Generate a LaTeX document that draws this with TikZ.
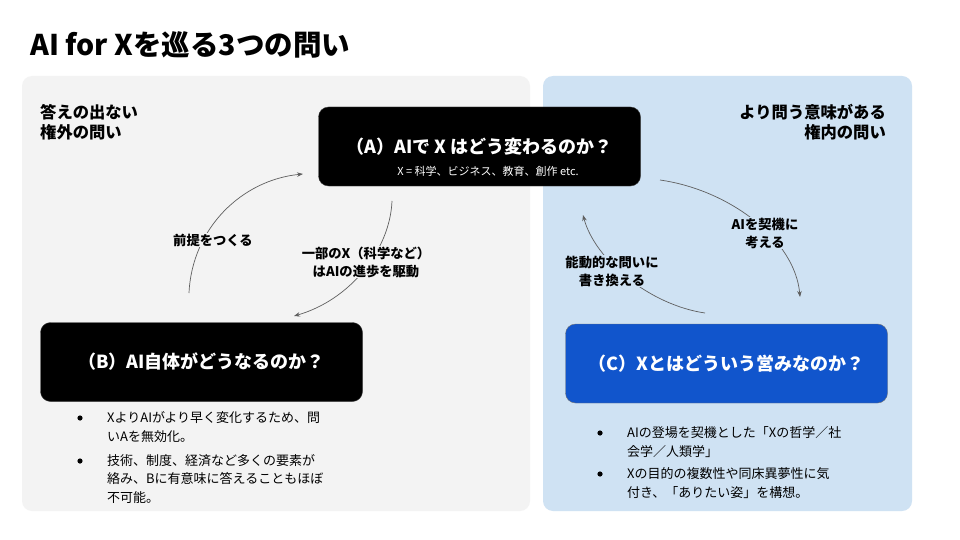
\documentclass[tikz,border=0pt]{standalone}
\usepackage{fontspec}
\setmainfont{Noto Sans CJK JP}
\usetikzlibrary{arrows.meta}

\definecolor{panelgray}{HTML}{F3F3F3}
\definecolor{panelblue}{HTML}{CFE2F3}
\definecolor{boxblue}{HTML}{1155CC}
\definecolor{linegray}{HTML}{5F5F5F}

\newcommand{\boxdims}{
\def\bw{322pt}   % question box width
\def\bh{79pt}    % question box height
\def\rr{10pt}
}

\tikzset{
  qbox/.style={draw=black!75, fill=black, text=white, rounded corners=\rr,
    minimum width=\bw, minimum height=\bh, font=\fontsize{18}{22}\selectfont\bfseries},
  flow/.style={draw=linegray, line width=0.7pt, -{Stealth[length=6pt,width=4.5pt]}},
  flowtxt/.style={font=\fontsize{13.3}{18}\selectfont\bfseries, align=center, inner sep=1pt},
  side/.style={font=\fontsize{16.3}{20.5}\selectfont\bfseries, inner sep=0pt},
  item/.style={font=\fontsize{13}{18.5}\selectfont, align=left, anchor=west, inner sep=0pt},
}

\begin{document}
\begin{tikzpicture}[x=1pt,y=-1pt]
  \boxdims
  \useasboundingbox (0,0) rectangle (960,540);
  \fill[white] (0,0) rectangle (960,540);
%
  \node[anchor=west, inner sep=0pt, font=\fontsize{28.5}{32}\selectfont\bfseries] (title) at (30,45) {AI for Xを巡る3つの問い};
%
  \fill[panelgray, rounded corners=\rr] (22,76) rectangle (530,511);
  \fill[panelblue, rounded corners=\rr] (543,76) rectangle (912,511);
  \node[side, anchor=west, align=left] (outq) at (40,122) {答えの出ない\\権外の問い};
  \node[side, anchor=east, align=right] (inq) at (886,122) {より問う意味がある\\権内の問い};
%
  \coordinate (b1s) at (189,293);  \coordinate (b1e) at (303,174);
  \coordinate (a1s) at (392,201);  \coordinate (a1e) at (294,316);
  \coordinate (a2s) at (660,180);  \coordinate (a2e) at (800,297);
  \coordinate (c1s) at (705,313);  \coordinate (c1e) at (583,215);
  \draw[flow] (b1s) .. controls (192,228) and (242,180) .. (b1e);
  \draw[flow] (a1s) .. controls (390,250) and (350,300) .. (a1e);
  \draw[flow] (a2s) .. controls (730,190) and (795,240) .. (a2e);
  \draw[flow] (c1s) .. controls (650,305) and (595,260) .. (c1e);
  \node[flowtxt, fill=panelgray] (premise) at (213,240) {前提をつくる};
  \node[flowtxt, fill=panelgray] (drive) at (366,262) {一部のX（科学など）\\はAIの進歩を駆動};
  \node[flowtxt, fill=panelblue] (trigger) at (765,233) {AIを契機に\\考える};
  \node[flowtxt, fill=panelblue] (rewrite) at (612,271) {能動的な問いに\\書き換える};
%
  \node[qbox] (qa) at (479.5,146.5) {（A）AIで X はどう変わるのか？};
  \node[text=white, inner sep=0pt, font=\fontsize{11}{13}\selectfont] (qasub) at (488,171) {X = 科学、ビジネス、教育、創作 etc.};
  \node[qbox] (qb) at (201.5,362) {（B）AI自体がどうなるのか？};
  \node[qbox, fill=boxblue, draw=black!55] (qc) at (726.5,363.5) {（C）Xとはどういう営みなのか？};
%
  \fill (80,418) circle (2.6);
  \fill (80,461) circle (2.6);
  \node[item] (bl1) at (107,427) {XよりAIがより早く変化するため、問\\いAを無効化。};
  \node[item] (bl2) at (107,479) {技術、制度、経済など多くの要素が\\絡み、Bに有意味に答えることもほぼ\\不可能。};
  \fill (600,433) circle (2.6);
  \fill (600,474) circle (2.6);
  \node[item] (br1) at (627,442) {AIの登場を契機とした「Xの哲学／社\\会学／人類学」};
  \node[item] (br2) at (627,483) {Xの目的の複数性や同床異夢性に気\\付き、「ありたい姿」を構想。};
\end{tikzpicture}
\end{document}
